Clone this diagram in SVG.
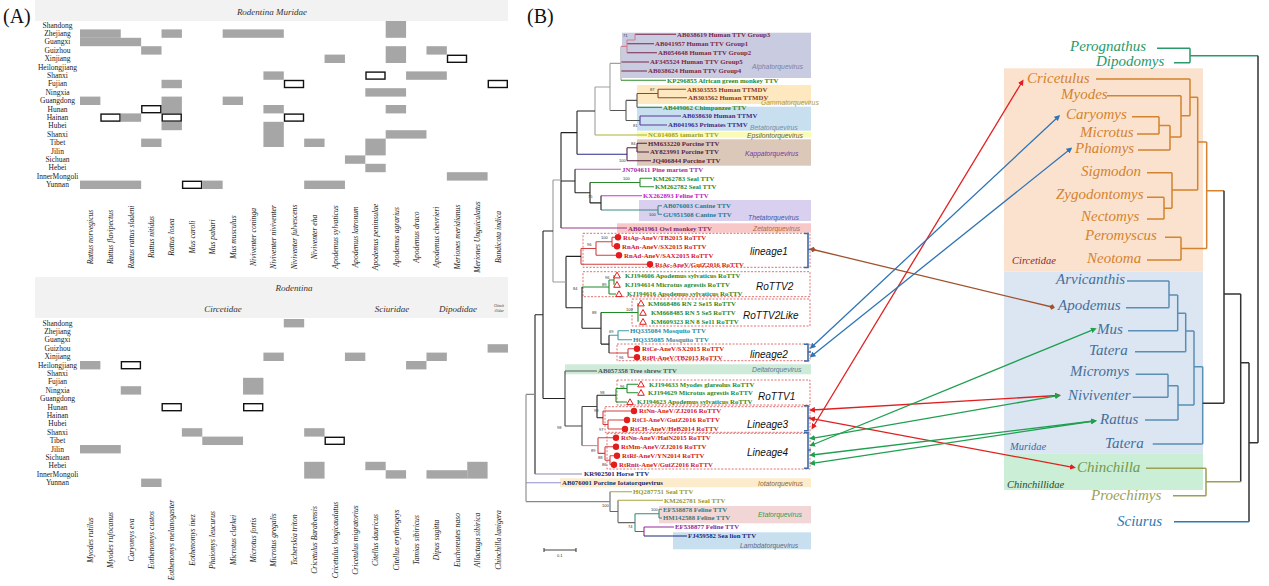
<svg xmlns="http://www.w3.org/2000/svg" width="1269" height="586" viewBox="0 0 1269 586">
<defs>
<style>
.pl{font-family:"Liberation Serif",serif;font-size:20px;fill:#111}
.hd{font-family:"Liberation Serif",serif;font-style:italic;font-size:9px;fill:#333}
.rl{font-family:"Liberation Serif",serif;font-size:7.5px;fill:#222;text-anchor:middle}
.cl{font-family:"Liberation Serif",serif;font-style:italic;font-size:7.6px;fill:#222;text-anchor:middle}
.g{fill:#a6a6a6}
.o{fill:#fff;stroke:#111;stroke-width:1.4}
.lf{font-family:"Liberation Serif",serif;font-weight:bold;font-size:6.8px}
.gn{font-family:"Liberation Sans",sans-serif;font-style:italic;font-size:6.8px}
.ln{font-family:"Liberation Sans",sans-serif;font-style:italic;font-size:10px;fill:#111}
.bs{font-family:"Liberation Sans",sans-serif;font-size:4px;fill:#333}
.br{fill:none;stroke-width:1.1}
.dbox{fill:none;stroke:#e06060;stroke-width:0.9;stroke-dasharray:2 1.5}
.bk{fill:none;stroke:#3f6ba8;stroke-width:1.6}
.tx{font-family:"Liberation Serif",serif;font-style:italic;font-size:15px}
.sm{font-family:"Liberation Serif",serif;font-style:italic;font-size:10.5px}
.rt{fill:none;stroke-width:1.5}
.dot{fill:#e51c1c}
.tri{fill:#fff;stroke:#e51c1c;stroke-width:1}
.red{fill:#d42020}
.grn{fill:#1f8a2a}
</style>
<marker id="mR" viewBox="0 0 6 6" refX="3" refY="3" markerWidth="4.5" markerHeight="4.5" orient="auto-start-reverse"><path d="M0,0 L6,3 L0,6 z" fill="#e02020"/></marker>
<marker id="mB" viewBox="0 0 6 6" refX="3" refY="3" markerWidth="4.5" markerHeight="4.5" orient="auto-start-reverse"><path d="M0,0 L6,3 L0,6 z" fill="#2f74b5"/></marker>
<marker id="mG" viewBox="0 0 6 6" refX="3" refY="3" markerWidth="4.5" markerHeight="4.5" orient="auto-start-reverse"><path d="M0,0 L6,3 L0,6 z" fill="#1fa050"/></marker>
<marker id="mN" viewBox="0 0 6 6" refX="3" refY="3" markerWidth="4.5" markerHeight="4.5" orient="auto-start-reverse"><path d="M0,3 L3,0 L6,3 L3,6 z" fill="#a0522d"/></marker>
</defs>
<rect width="1269" height="586" fill="#fff"/>

<!-- PANEL A -->
<g id="panelA">
<text class="pl" x="3" y="23">(A)</text>
<rect x="35" y="0" width="473" height="21" fill="#f2f2f2"/>
<text class="hd" x="272" y="15" text-anchor="middle">Rodentina Muridae</text>
<g id="rowsTop">
<text class="rl" x="57.5" y="27.6">Shandong</text>
<text class="rl" x="57.5" y="36">Zhejiang</text>
<text class="rl" x="57.5" y="44.4">Guangxi</text>
<text class="rl" x="57.5" y="52.8">Guizhou</text>
<text class="rl" x="57.5" y="61.2">Xinjiang</text>
<text class="rl" x="57.5" y="69.6">Heilongjiang</text>
<text class="rl" x="57.5" y="78">Shanxi</text>
<text class="rl" x="57.5" y="86.4">Fujian</text>
<text class="rl" x="57.5" y="94.8">Ningxia</text>
<text class="rl" x="57.5" y="103.2">Guangdong</text>
<text class="rl" x="57.5" y="111.6">Hunan</text>
<text class="rl" x="57.5" y="120">Hainan</text>
<text class="rl" x="57.5" y="128.4">Hubei</text>
<text class="rl" x="57.5" y="136.8">Shanxi</text>
<text class="rl" x="57.5" y="145.2">Tibet</text>
<text class="rl" x="57.5" y="153.6">Jilin</text>
<text class="rl" x="57.5" y="162">Sichuan</text>
<text class="rl" x="57.5" y="170.4">Hebei</text>
<text class="rl" x="57.5" y="178.8">InnerMongoli</text>
<text class="rl" x="57.5" y="187.2">Yunnan</text>
</g>
<g id="cellsTop">
<rect class="g" x="385.7" y="21" width="20.38" height="16.8"/>
<rect class="g" x="80" y="29.4" width="40.76" height="8.4"/>
<rect class="g" x="161.52" y="29.4" width="20.38" height="8.4"/>
<rect class="g" x="222.66" y="29.4" width="61.14" height="8.4"/>
<rect class="g" x="80" y="37.8" width="61.14" height="8.4"/>
<rect class="g" x="141.14" y="46.2" width="20.38" height="8.4"/>
<rect class="g" x="385.7" y="46.2" width="20.38" height="16.8"/>
<rect class="g" x="426.46" y="46.2" width="20.38" height="8.4"/>
<rect class="g" x="324.56" y="54.6" width="20.38" height="8.4"/>
<rect class="o" x="447.5" y="55.3" width="19" height="7"/>
<rect class="g" x="263.42" y="71.4" width="20.38" height="8.4"/>
<rect class="o" x="366" y="72.1" width="19" height="7"/>
<rect class="g" x="406.08" y="71.4" width="40.76" height="8.4"/>
<rect class="g" x="161.52" y="79.8" width="20.38" height="8.4"/>
<rect class="o" x="284.5" y="80.5" width="19" height="7"/>
<rect class="o" x="488.3" y="80.5" width="19" height="7"/>
<rect class="g" x="365.32" y="88.2" width="40.76" height="8.4"/>
<rect class="g" x="80" y="96.6" width="20.38" height="8.4"/>
<rect class="g" x="161.52" y="96.6" width="20.38" height="16.8"/>
<rect class="g" x="222.66" y="96.6" width="20.38" height="8.4"/>
<rect class="o" x="141.8" y="105.7" width="19" height="7"/>
<rect class="g" x="263.42" y="105" width="20.38" height="8.4"/>
<rect class="g" x="385.7" y="105" width="20.38" height="8.4"/>
<rect class="o" x="101" y="114.1" width="19" height="7"/>
<rect class="g" x="120.76" y="113.4" width="20.38" height="8.4"/>
<rect class="o" x="162.2" y="114.1" width="19" height="7"/>
<rect class="o" x="284.5" y="114.1" width="19" height="7"/>
<rect class="g" x="161.52" y="121.8" width="20.38" height="8.4"/>
<rect class="g" x="263.42" y="121.8" width="20.38" height="25.2"/>
<rect class="g" x="385.7" y="130.2" width="40.76" height="8.4"/>
<rect class="g" x="141.14" y="138.6" width="20.38" height="8.4"/>
<rect class="g" x="304.18" y="138.6" width="20.38" height="8.4"/>
<rect class="g" x="365.32" y="138.6" width="20.38" height="16.8"/>
<rect class="g" x="344.94" y="155.4" width="20.38" height="8.4"/>
<rect class="g" x="365.32" y="163.8" width="20.38" height="8.4"/>
<rect class="g" x="446.84" y="172.2" width="40.76" height="8.4"/>
<rect class="g" x="80" y="180.6" width="61.14" height="8.4"/>
<rect class="o" x="182.6" y="181.3" width="19" height="7"/>
<rect class="g" x="202.28" y="180.6" width="20.38" height="8.4"/>
<rect class="g" x="304.18" y="180.6" width="40.76" height="8.4"/>
</g>
<g id="colsTop">
<text class="cl" transform="translate(92.9,237) rotate(-90)">Rattus norvegicus</text>
<text class="cl" transform="translate(113.3,237) rotate(-90)">Rattus flavipectus</text>
<text class="cl" transform="translate(133.7,237) rotate(-90)">Rattus rattus sladeni</text>
<text class="cl" transform="translate(154,237) rotate(-90)">Rattus nitidus</text>
<text class="cl" transform="translate(174.4,237) rotate(-90)">Rattus losea</text>
<text class="cl" transform="translate(194.8,237) rotate(-90)">Mus caroli</text>
<text class="cl" transform="translate(215.2,237) rotate(-90)">Mus pahari</text>
<text class="cl" transform="translate(235.6,237) rotate(-90)">Mus musculus</text>
<text class="cl" transform="translate(255.9,237) rotate(-90)">Niviventer coninga</text>
<text class="cl" transform="translate(276.3,237) rotate(-90)">Niviventer niviventer</text>
<text class="cl" transform="translate(296.7,237) rotate(-90)">Niviventer fulvescens</text>
<text class="cl" transform="translate(317.1,237) rotate(-90)">Niviventer eha</text>
<text class="cl" transform="translate(337.5,237) rotate(-90)">Apodemus sylvaticus</text>
<text class="cl" transform="translate(357.8,237) rotate(-90)">Apodemus latronum</text>
<text class="cl" transform="translate(378.2,237) rotate(-90)">Apodemus peninsulae</text>
<text class="cl" transform="translate(398.6,237) rotate(-90)">Apodemus agrarius</text>
<text class="cl" transform="translate(419,237) rotate(-90)">Apodemus draco</text>
<text class="cl" transform="translate(439.4,237) rotate(-90)">Apodemus chevrieri</text>
<text class="cl" transform="translate(459.7,237) rotate(-90)">Meriones meridianus</text>
<text class="cl" transform="translate(480.1,237) rotate(-90)">Meriones Unguiculatus</text>
<text class="cl" transform="translate(500.5,237) rotate(-90)">Bandicota indica</text>
</g>

<rect x="35" y="277" width="473" height="41" fill="#f2f2f2"/>
<text class="hd" x="294" y="291" text-anchor="middle">Rodentina</text>
<text class="hd" x="223" y="312" text-anchor="middle">Circetidae</text>
<text class="hd" x="392" y="312" text-anchor="middle">Sciuridae</text>
<text class="hd" x="458" y="312" text-anchor="middle">Dipodidae</text>
<text class="hd" x="499" y="307" text-anchor="middle" style="font-size:3.5px">Chinch</text>
<text class="hd" x="499" y="311.5" text-anchor="middle" style="font-size:3.5px">illidae</text>
<g id="rowsBottom">
<text class="rl" x="57.5" y="325.6">Shandong</text>
<text class="rl" x="57.5" y="334">Zhejiang</text>
<text class="rl" x="57.5" y="342.4">Guangxi</text>
<text class="rl" x="57.5" y="350.8">Guizhou</text>
<text class="rl" x="57.5" y="359.2">Xinjiang</text>
<text class="rl" x="57.5" y="367.6">Heilongjiang</text>
<text class="rl" x="57.5" y="376">Shanxi</text>
<text class="rl" x="57.5" y="384.4">Fujian</text>
<text class="rl" x="57.5" y="392.8">Ningxia</text>
<text class="rl" x="57.5" y="401.2">Guangdong</text>
<text class="rl" x="57.5" y="409.6">Hunan</text>
<text class="rl" x="57.5" y="418">Hainan</text>
<text class="rl" x="57.5" y="426.4">Hubei</text>
<text class="rl" x="57.5" y="434.8">Shanxi</text>
<text class="rl" x="57.5" y="443.2">Tibet</text>
<text class="rl" x="57.5" y="451.6">Jilin</text>
<text class="rl" x="57.5" y="460">Sichuan</text>
<text class="rl" x="57.5" y="468.4">Hebei</text>
<text class="rl" x="57.5" y="476.8">InnerMongoli</text>
<text class="rl" x="57.5" y="485.2">Yunnan</text>
</g>
<g id="cellsBottom">
<rect class="g" x="283.8" y="319" width="20.38" height="8.4"/>
<rect class="g" x="487.6" y="344.2" width="20.38" height="8.4"/>
<rect class="g" x="263.42" y="352.6" width="20.38" height="8.4"/>
<rect class="g" x="344.94" y="352.6" width="20.38" height="8.4"/>
<rect class="g" x="426.46" y="352.6" width="20.38" height="8.4"/>
<rect class="g" x="80" y="361" width="20.38" height="8.4"/>
<rect class="o" x="121.4" y="361.7" width="19" height="7"/>
<rect class="g" x="406.08" y="361" width="20.38" height="8.4"/>
<rect class="g" x="243.04" y="377.8" width="20.38" height="16.8"/>
<rect class="g" x="120.76" y="386.2" width="20.38" height="8.4"/>
<rect class="o" x="162.2" y="403.7" width="19" height="7"/>
<rect class="o" x="243.7" y="403.7" width="19" height="7"/>
<rect class="g" x="181.9" y="428.2" width="20.38" height="8.4"/>
<rect class="g" x="304.18" y="428.2" width="20.38" height="8.4"/>
<rect class="g" x="202.28" y="436.6" width="40.76" height="8.4"/>
<rect class="o" x="325.2" y="437.3" width="19" height="7"/>
<rect class="g" x="80" y="445" width="40.76" height="8.4"/>
<rect class="g" x="304.18" y="461.8" width="20.38" height="16.8"/>
<rect class="g" x="365.32" y="461.8" width="20.38" height="8.4"/>
<rect class="g" x="467.22" y="461.8" width="20.38" height="16.8"/>
<rect class="g" x="385.7" y="470.2" width="20.38" height="8.4"/>
<rect class="g" x="426.46" y="470.2" width="40.76" height="8.4"/>
<rect class="g" x="141.14" y="478.6" width="20.38" height="8.4"/>
</g>
<g id="colsBottom">
<text class="cl" transform="translate(92.9,540) rotate(-90)">Myodes rutilus</text>
<text class="cl" transform="translate(113.3,540) rotate(-90)">Myodes rufocanus</text>
<text class="cl" transform="translate(133.7,540) rotate(-90)">Caryomys eva</text>
<text class="cl" transform="translate(154,540) rotate(-90)">Eothenomys custos</text>
<text class="cl" transform="translate(174.4,540) rotate(-90)">Eothenomys melanogaster</text>
<text class="cl" transform="translate(194.8,540) rotate(-90)">Eothenomys inez</text>
<text class="cl" transform="translate(215.2,540) rotate(-90)">Phaiomys leucurus</text>
<text class="cl" transform="translate(235.6,540) rotate(-90)">Microtus clarkei</text>
<text class="cl" transform="translate(255.9,540) rotate(-90)">Microtus fortis</text>
<text class="cl" transform="translate(276.3,540) rotate(-90)">Microtus gregalis</text>
<text class="cl" transform="translate(296.7,540) rotate(-90)">Tscherskia triton</text>
<text class="cl" transform="translate(317.1,540) rotate(-90)">Cricetulus Barabensis</text>
<text class="cl" transform="translate(337.5,540) rotate(-90)">Cricetulus longicaudatus</text>
<text class="cl" transform="translate(357.8,540) rotate(-90)">Cricetulus migratorius</text>
<text class="cl" transform="translate(378.2,540) rotate(-90)">Citellus dauricus</text>
<text class="cl" transform="translate(398.6,540) rotate(-90)">Citellus erythrogeys</text>
<text class="cl" transform="translate(419,540) rotate(-90)">Tamias sibiricus</text>
<text class="cl" transform="translate(439.4,540) rotate(-90)">Dipus sagitta</text>
<text class="cl" transform="translate(459.7,540) rotate(-90)">Euchoreutes naso</text>
<text class="cl" transform="translate(480.1,540) rotate(-90)">Allactaga sibirica</text>
<text class="cl" transform="translate(500.5,540) rotate(-90)">Chinchilla lanigera</text>
</g>
</g>

<!-- PANEL B -->
<g id="panelB">
<text class="pl" x="527" y="23">(B)</text>
<g id="genusBoxes">
<rect x="622" y="32.7" width="189" height="45.3" fill="#c9cbe0"/>
<rect x="637" y="85" width="174" height="19" fill="#fde8c0"/>
<rect x="637" y="106.7" width="174" height="24" fill="#c8dff0"/>
<rect x="637" y="131.7" width="174" height="6" fill="#fbfbb8"/>
<rect x="637" y="139.3" width="174" height="26.4" fill="#dcc8b8"/>
<rect x="639" y="200" width="172" height="21" fill="#d8d0ee"/>
<rect x="617" y="223.3" width="194" height="9.4" fill="#f8c8c8"/>
<rect x="565" y="364.3" width="246" height="10" fill="#cdebd8"/>
<rect x="560" y="478.3" width="251" height="9" fill="#fdeccb"/>
<rect x="659" y="506" width="152" height="17.3" fill="#f2d6d6"/>
<rect x="673" y="532.3" width="138" height="17" fill="#c8dff0"/>
<text class="gn" x="752" y="68.5" fill="#7a7fa8">Alphatorquevirus</text>
<text class="gn" x="761" y="105.3" fill="#b09a38">Gammatorquevirus</text>
<text class="gn" x="750" y="130" fill="#7090a8">Betatorquevirus</text>
<text class="gn" x="747" y="138.3" fill="#6a6040">Epsilontorquevirus</text>
<text class="gn" x="745" y="155.5" fill="#8030a0">Kappatorquevirus</text>
<text class="gn" x="748" y="219.5" fill="#3a5aa8">Thetatorquevirus</text>
<text class="gn" x="753" y="230.6" fill="#b06a3a">Zetatorquevirus</text>
<text class="gn" x="752" y="371.8" fill="#5a7a9a">Deltatorquevirus</text>
<text class="gn" x="758" y="486.3" fill="#8a6a3a">Iotatorquevirus</text>
<text class="gn" x="758" y="516.5" fill="#2a9a5a">Etatorquevirus</text>
<text class="gn" x="740" y="548" fill="#6a6a7a">Lambdatorquevirus</text>
</g>
<g id="lineageBoxes">
<rect class="dbox" x="583" y="233.3" width="227" height="34"/>
<rect class="dbox" x="583" y="271.7" width="227" height="25"/>
<rect class="dbox" x="632" y="299" width="178" height="27"/>
<rect class="dbox" x="617" y="344" width="193" height="16.7"/>
<rect class="dbox" x="617" y="380" width="193" height="25"/>
<rect class="dbox" x="605" y="406.7" width="205" height="25.6"/>
<rect class="dbox" x="607" y="433.3" width="203" height="35.7"/>
<text class="ln" x="750" y="255">lineage1</text>
<text class="ln" x="756" y="290">RoTTV2</text>
<text class="ln" x="743" y="318.5">RoTTV2Like</text>
<text class="ln" x="750" y="357.5">lineage2</text>
<text class="ln" x="758" y="399.5">RoTTV1</text>
<text class="ln" x="747" y="428">Lineage3</text>
<text class="ln" x="747" y="456">Lineage4</text>
</g>
<g id="tree">
<path class="br" stroke="#7a2848" d="M635,34.3H676M627,43.7H654M627,52.7H657M621,62H649M621,71H647"/>
<path class="br" stroke="#d08090" d="M635,34.3V40M627,40H635M627,40V52.7M621,46.4H627"/>
<path class="br" stroke="#a0a0a0" d="M621,46.4V80.3M610,63.4H621"/>
<path class="br" stroke="#2a8a2a" d="M621,80.3H666"/>
<path class="br" stroke="#8b4a2a" d="M658,89.3V97.7M658,89.3H686M658,97.7H687M637,93.5H658"/>
<path class="br" stroke="#555" d="M637,93.5V107.3M626,100.4V120.5M626,100.4H637M626,120.5H640M610,110.5H626"/>
<path class="br" stroke="#2a8a2a" d="M637,107.3H662"/>
<path class="br" stroke="#5a3a9a" d="M640,116V125M640,116H681M640,125H667"/>
<path class="br" stroke="#a0a0a0" d="M610,63.4V110.5M595,87V135M595,87H610"/>
<path class="br" stroke="#b0b030" d="M595,135H647"/>
<path class="br" stroke="#5a1f3f" d="M637,143.3V152M637,143.3H647M637,152H649M627,147.7V160.7M627,147.7H637M627,160.7H651"/>
<path class="br" stroke="#2a2a8a" d="M577,154.2H627"/>
<path class="br" stroke="#222" d="M577,111V154.2M577,111H595"/>
<path class="br" stroke="#b060b0" d="M575,169.3H621"/>
<path class="br" stroke="#2a8a2a" d="M640,178.3V186.7M640,178.3H652M640,186.7H654M590,182.5H640"/>
<path class="br" stroke="#3a8a8a" d="M658,205.7V214.3M658,205.7H662M658,214.3H662M601,210H658"/>
<path class="br" stroke="#d030d0" d="M601,195.7H642"/>
<path class="br" stroke="#222" d="M601,195.7V210M590,182.5V202.9M590,202.9H601M575,169.3V192.7M575,192.7H590M561,132.6V228M561,132.6H577M561,181H575"/>
<path class="br" stroke="#9a3a8a" d="M561,228H627"/>
<path class="br" stroke="#d04040" d="M612,237.3V246.3M612,237.3H615M612,246.3H614M596,241.8V255.3M596,241.8H612M596,255.3H616M581,248.5V264.3M581,248.5H596M581,264.3H647"/>
<path class="br" stroke="#1f8a2a" d="M614,275.3V284.7M609,280V294M609,280H614M609,294H616M609,287H582M638,303.3V321.7M601,312.5H638"/>
<path class="br" stroke="#3a9aaa" d="M618,330.7V339.7M618,330.7H629M618,339.7H632M609,335.2H618"/>
<path class="br" stroke="#d04040" d="M628,348.7V357.3M628,348.7H634M628,357.3H634M609,353H628"/>
<path class="br" stroke="#222" d="M609,335.2V353M601,312.5V344.1M601,344.1H609M582,287V328.3M582,328.3H601M566,256.4V307.7M566,256.4H581M566,307.7H582"/>
<path class="br" stroke="#999" d="M553,180V282M553,180H561M553,282H566"/>
<path class="br" stroke="#1f8a2a" d="M627,384.3V392.7M627,384.3H638M627,392.7H638M616,388.5V402M616,388.5H627M616,402H627"/>
<path class="br" stroke="#d04040" d="M608,420V429M608,420H624M608,429H622M603,411V424.5M603,411H631M603,424.5H608"/>
<path class="br" stroke="#222" d="M597,395.2V417.7M597,395.2H616M597,417.7H603"/>
<path class="br" stroke="#d04040" d="M610,455.7V464.7M610,455.7H614M610,464.7H611M605,446.7V460.2M605,446.7H613M605,460.2H610M598,437.7V453.4M598,437.7H613M598,453.4H605"/>
<path class="br" stroke="#d88a8a" d="M582,445.6H598"/>
<path class="br" stroke="#444" d="M582,406.5V445.6M582,406.5H597M565,371V426M565,426H582"/>
<path class="br" stroke="#666" d="M565,371H597"/>
<path class="br" stroke="#222" d="M543,231V398.5M543,231H553M543,398.5H565M535,314.8V474M535,314.8H543"/>
<path class="br" stroke="#8a8ab0" d="M535,474H582"/>
<path class="br" stroke="#3a8a7a" d="M659,509.3V518M659,509.3H662M659,518H662M635,513.7H659M635,513.7V531.5"/>
<path class="br" stroke="#9a2a9a" d="M644,527V536M644,527H674"/>
<path class="br" stroke="#1a2a7a" d="M644,536H687"/>
<path class="br" stroke="#666" d="M635,531.5H644M618,500.3V522.6M618,522.6H635M610,491.7V511.5M610,511.5H618"/>
<path class="br" stroke="#a8a840" d="M610,491.7H632M618,500.3H663"/>
<path class="br" stroke="#9090d0" d="M526,482.7H561"/>
<path class="br" stroke="#888" stroke-width="1.6" d="M526,394.4V501.6M526,394.4H535M526,501.6H610"/>
<path class="br" stroke="#444" d="M544,550H576M544,548V552M576,548V552"/>
<text class="bs" x="557" y="557">0.1</text>
</g>
<g id="bootstrap">
<text class="bs" x="623" y="37">71</text>
<text class="bs" x="650" y="91">87</text>
<text class="bs" x="633" y="127">81</text>
<text class="bs" x="631" y="145">84</text>
<text class="bs" x="619" y="162">100</text>
<text class="bs" x="623" y="180">100</text>
<text class="bs" x="588" y="198">75</text>
<text class="bs" x="649" y="216">100</text>
<text class="bs" x="601" y="239">100</text>
<text class="bs" x="587" y="246">96</text>
<text class="bs" x="605" y="279">96</text>
<text class="bs" x="602" y="286">89</text>
<text class="bs" x="626" y="311">100</text>
<text class="bs" x="573" y="290">84</text>
<text class="bs" x="592" y="314">88</text>
<text class="bs" x="609" y="333">69</text>
<text class="bs" x="619" y="359">96</text>
<text class="bs" x="620" y="388">96</text>
<text class="bs" x="600" y="394">98</text>
<text class="bs" x="594" y="412">99</text>
<text class="bs" x="599" y="431">97</text>
<text class="bs" x="591" y="452">89</text>
<text class="bs" x="598" y="459">88</text>
<text class="bs" x="602" y="466">86</text>
<text class="bs" x="557" y="429">98</text>
<text class="bs" x="602" y="507">100</text>
<text class="bs" x="651" y="511">100</text>
<text class="bs" x="628" y="528">74</text>
</g>
<g id="leaves">
<text class="lf" x="677" y="36.6" fill="#7a2848">AB038619 Human TTV Group3</text>
<text class="lf" x="655" y="46" fill="#7a2848">AB041957 Human TTV Group1</text>
<text class="lf" x="658" y="55" fill="#7a2848">AB054648 Human TTV Group2</text>
<text class="lf" x="650" y="64.3" fill="#7a2848">AF345524 Human TTV Group5</text>
<text class="lf" x="648" y="73.3" fill="#7a2848">AB038624 Human TTV Group4</text>
<text class="lf" x="667" y="82.6" fill="#1f8a2a">KP296855 African green monkey TTV</text>
<text class="lf" x="687" y="91.6" fill="#8b3a1a">AB303555 Human TTMDV</text>
<text class="lf" x="688" y="100" fill="#8b3a1a">AB303562 Human TTMDV</text>
<text class="lf" x="663" y="109.6" fill="#1f8a2a">AB449062 Chimpanzee TTV</text>
<text class="lf" x="682" y="118.3" fill="#3d2c8d">AB038630 Human TTMV</text>
<text class="lf" x="668" y="127.3" fill="#3d2c8d">AB041963 Primates TTMV</text>
<text class="lf" x="648" y="137.3" fill="#a0a020">NC014085 tamarin TTV</text>
<text class="lf" x="648" y="145.6" fill="#5a1f3f">HM633220 Porcine TTV</text>
<text class="lf" x="650" y="154.3" fill="#5a1f3f">AY823991 Porcine TTV</text>
<text class="lf" x="652" y="163" fill="#5a1f3f">JQ406844 Porcine TTV</text>
<text class="lf" x="622" y="171.6" fill="#a030a0">JN704611 Pine marten TTV</text>
<text class="lf" x="653" y="180.6" fill="#1f8a2a">KM262783 Seal TTV</text>
<text class="lf" x="655" y="189" fill="#1f8a2a">KM262782 Seal TTV</text>
<text class="lf" x="643" y="198" fill="#c020c0">KX262893 Feline TTV</text>
<text class="lf" x="663" y="208" fill="#2a7a8a">AB076003 Canine TTV</text>
<text class="lf" x="663" y="216.6" fill="#2a7a8a">GU951508 Canine TTV</text>
<text class="lf" x="628" y="230.6" fill="#8a2a6a">AB041961 Owl monkey TTV</text>
<text class="lf red" x="623" y="239.6">RtAp-AneV/TB2015 RoTTV</text>
<text class="lf red" x="622" y="248.6">RnAn-AneV/SX2015 RoTTV</text>
<text class="lf red" x="624" y="257.6">RnAd-AneV/SAX2015 RoTTV</text>
<text class="lf red" x="655" y="266.6">RtAc-AneV/GuiZ2016 RoTTV</text>
<text class="lf grn" x="625" y="277.6">KJ194606 Apodemus sylvaticus RoTTV</text>
<text class="lf grn" x="625" y="287">KJ194614 Microtus agrestis RoTTV</text>
<text class="lf grn" x="627" y="296.3">KJ194616 Apodemus sylvaticus RoTTV</text>
<text class="lf grn" x="648" y="305.6">KM668486 RN 2 Se15 RoTTV</text>
<text class="lf grn" x="651" y="315">KM668485 RN 5 Se5 RoTTV</text>
<text class="lf grn" x="651" y="324">KM609323 RN 8 Se11 RoTTV</text>
<text class="lf" x="630" y="333" fill="#2a8aa0">HQ335084 Mosquito TTV</text>
<text class="lf" x="633" y="342" fill="#2a8aa0">HQ335085 Mosquito TTV</text>
<text class="lf red" x="642" y="351">RtCe-AneV/SX2015 RoTTV</text>
<text class="lf red" x="642" y="359.6">RtPl-AneV/TB2015 RoTTV</text>
<text class="lf" x="598" y="373.3" fill="#555">AB057358 Tree shrew TTV</text>
<text class="lf grn" x="649" y="386.6">KJ194633 Myodes glareolus RoTTV</text>
<text class="lf grn" x="648" y="395">KJ194629 Microtus agrestis RoTTV</text>
<text class="lf grn" x="637" y="404.3">KJ194623 Apodemus sylvaticus RoTTV</text>
<text class="lf red" x="639" y="413.3">RtNn-AneV/ZJ2016 RoTTV</text>
<text class="lf red" x="632" y="422.3">RtCl-AneV/GuiZ2016 RoTTV</text>
<text class="lf red" x="630" y="431.3">RtCH-AneV/HeB2014 RoTTV</text>
<text class="lf red" x="621" y="440">RtNn-AneV/HaiN2015 RoTTV</text>
<text class="lf red" x="621" y="449">RtMm-AneV/ZJ2016 RoTTV</text>
<text class="lf red" x="622" y="458">RtRf-AneV/YN2014 RoTTV</text>
<text class="lf red" x="619" y="467">RtRnit-AneV/GuiZ2016 RoTTV</text>
<text class="lf" x="584" y="476.3" fill="#1a1a6a">KR902501 Horse TTV</text>
<text class="lf" x="562" y="485" fill="#1a2a6a">AB076001 Porcine Iotatorquevirus</text>
<text class="lf" x="633" y="494" fill="#9a9a2a">HQ287751 Seal TTV</text>
<text class="lf" x="664" y="502.6" fill="#9a9a2a">KM262781 Seal TTV</text>
<text class="lf" x="663" y="511.6" fill="#3a7a7a">EF538878 Feline TTV</text>
<text class="lf" x="663" y="520.3" fill="#3a7a7a">HM142588 Feline TTV</text>
<text class="lf" x="675" y="529.3" fill="#8a2a9a">EF538877 Feline TTV</text>
<text class="lf" x="688" y="538.3" fill="#1a2a7a">FJ459582 Sea lion TTV</text>
</g>
<g id="symbols">
<circle class="dot" cx="618" cy="237.3" r="3.2"/>
<circle class="dot" cx="617" cy="246.3" r="3.2"/>
<circle class="dot" cx="619" cy="255.3" r="3.2"/>
<circle class="dot" cx="650" cy="264.3" r="3.2"/>
<circle class="dot" cx="637" cy="348.7" r="3.2"/>
<circle class="dot" cx="637" cy="357.3" r="3.2"/>
<circle class="dot" cx="634" cy="411" r="3.2"/>
<circle class="dot" cx="627" cy="420" r="3.2"/>
<circle class="dot" cx="625" cy="429" r="3.2"/>
<circle class="dot" cx="616" cy="437.7" r="3.2"/>
<circle class="dot" cx="616" cy="446.7" r="3.2"/>
<circle class="dot" cx="617" cy="455.7" r="3.2"/>
<circle class="dot" cx="614" cy="464.7" r="3.2"/>
<polygon class="tri" points="617,272.1 613.7,277.9 620.3,277.9"/>
<polygon class="tri" points="617,281.5 613.7,287.3 620.3,287.3"/>
<polygon class="tri" points="619,290.8 615.7,296.6 622.3,296.6"/>
<polygon class="tri" points="641,300.1 637.7,305.9 644.3,305.9"/>
<polygon class="tri" points="643,309.5 639.7,315.3 646.3,315.3"/>
<polygon class="tri" points="643,318.5 639.7,324.3 646.3,324.3"/>
<polygon class="tri" points="641,381.1 637.7,386.9 644.3,386.9"/>
<polygon class="tri" points="641,389.5 637.7,395.3 644.3,395.3"/>
<polygon class="tri" points="630,398.8 626.7,404.6 633.3,404.6"/>
</g>
<g id="brackets">
<path class="bk" d="M804,233.5H808V267.5H804M808,249.5H811"/>
<path class="bk" d="M804,344.3H808V361H804M808,352H811"/>
<path class="bk" d="M804,405.7H808V430.7H804M808,418H811"/>
<path class="bk" d="M804,432.8H808V468.3H804M808,450H811"/>
</g>
</g>

<!-- host cladogram -->
<g id="hostTree">
<rect x="1004" y="68.3" width="199" height="203.4" fill="#fbe2cf"/>
<rect x="1004" y="271.7" width="199" height="181.6" fill="#dce6f3"/>
<rect x="1004" y="453.3" width="199" height="36.7" fill="#cbeed6"/>
<text class="sm" x="1012" y="264" fill="#8b2a2a">Circetidae</text>
<text class="sm" x="1010" y="450" fill="#3a6aa0">Muridae</text>
<text class="sm" x="1007" y="488" fill="#2a4a2a">Chinchillidae</text>
<g id="hostLabels">
<text class="tx" x="1070" y="51" fill="#2a9a6a">Perognathus</text>
<text class="tx" x="1096" y="66" fill="#2a9a6a">Dipodomys</text>
<text class="tx" x="1027" y="82.5" fill="#d4832e">Cricetulus</text>
<text class="tx" x="1061" y="99" fill="#d4832e">Myodes</text>
<text class="tx" x="1066" y="119" fill="#d4832e">Caryomys</text>
<text class="tx" x="1080" y="136.5" fill="#d4832e">Microtus</text>
<text class="tx" x="1075" y="153" fill="#d4832e">Phaiomys</text>
<text class="tx" x="1081" y="176" fill="#d4832e">Sigmodon</text>
<text class="tx" x="1056" y="199" fill="#d4832e">Zygodontomys</text>
<text class="tx" x="1081" y="220.5" fill="#d4832e">Nectomys</text>
<text class="tx" x="1085" y="239.5" fill="#d4832e">Peromyscus</text>
<text class="tx" x="1087" y="262.5" fill="#d4832e">Neotoma</text>
<text class="tx" x="1056" y="283.5" fill="#456f9a">Arvicanthis</text>
<text class="tx" x="1058" y="309.5" fill="#456f9a">Apodemus</text>
<text class="tx" x="1097" y="333.5" fill="#456f9a">Mus</text>
<text class="tx" x="1089" y="354.5" fill="#456f9a">Tatera</text>
<text class="tx" x="1070" y="375.5" fill="#456f9a">Micromys</text>
<text class="tx" x="1068" y="399.5" fill="#456f9a">Niviventer</text>
<text class="tx" x="1100" y="423.5" fill="#456f9a">Rattus</text>
<text class="tx" x="1105" y="447.5" fill="#456f9a">Tatera</text>
<text class="tx" x="1077" y="471.5" fill="#6f9a4a">Chinchilla</text>
<text class="tx" x="1091" y="499.5" fill="#9aa055">Proechimys</text>
<text class="tx" x="1117" y="525.5" fill="#2b7bb0">Sciurus</text>
</g>
<path class="rt" stroke="#2a9a6a" d="M1157,48.3H1190M1174,62.7H1190M1190,48.3V62.7M1190,55.7H1258"/>
<path class="rt" stroke="#d4832e" d="M1096,79H1190M1107,95.7H1181M1132,116.7H1159M1137,134H1159M1159,116.7V134M1159,125.5H1170M1138,150H1170M1170,125.5V150M1170,137H1181M1181,95.7V137M1181,115.7H1190M1190,79V115.7M1190,97.3H1197.7M1147,172.7H1172M1147,197.3H1164M1147,219H1164M1164,197.3V219M1164,208.3H1172M1172,172.7V208.3M1172,190H1197.7M1197.7,97.3V190M1197.7,142H1206.7M1165,237.3H1181M1147,260H1181M1181,237.3V260M1181,248.5H1206.7M1206.7,142V248.5M1206.7,190.7H1224"/>
<path class="rt" stroke="#5a8fb5" d="M1127,281H1169M1126,307.7H1169M1169,281V307.7M1169,295H1177.7M1128,330.7H1177.7M1177.7,295V330.7M1177.7,313.3H1185.7M1135,351.7H1185.7M1185.7,313.3V351.7M1185.7,331H1194M1135.7,374.3H1168M1132.7,397.3H1168M1168,374.3V397.3M1168,385.7H1178M1145,420H1178M1178,385.7V420M1178,405H1194M1194,331V405M1194,366.7H1202.7M1152.7,444H1202.7M1202.7,366.7V444"/>
<path class="rt" stroke="#333" d="M1202.7,403.3H1224M1224,190.7V403.3M1224,294H1240.7M1240.7,294V481.7M1240.7,362.7H1249M1249,362.7V521.7M1249,442.7H1258M1258,55.7V442.7"/>
<path class="rt" stroke="#9aa055" d="M1146,468.3H1206M1173,495.7H1206M1206,468.3V495.7M1206,481.7H1240.7"/>
<path class="rt" stroke="#2b7bb0" d="M1174,521.7H1249"/>
</g>

<g id="connectors" fill="none" stroke-width="1.3">
<path d="M813,249.5L1052,307" stroke="#a0522d" marker-start="url(#mN)" marker-end="url(#mN)"/>
<path d="M813,427L1022,82" stroke="#e02020" marker-start="url(#mR)" marker-end="url(#mR)"/>
<path d="M812,346.7L1058,117" stroke="#2f74b5" marker-start="url(#mB)" marker-end="url(#mB)"/>
<path d="M812,355.7L1070,149.3" stroke="#2f74b5" marker-start="url(#mB)" marker-end="url(#mB)"/>
<path d="M812,410L1058,395.5" stroke="#e02020" marker-start="url(#mR)" marker-end="url(#mR)"/>
<path d="M812,418.7L1073,467.3" stroke="#e02020" marker-start="url(#mR)" marker-end="url(#mR)"/>
<path d="M812,438.3L1058,395.7" stroke="#1fa050" marker-start="url(#mG)" marker-end="url(#mG)"/>
<path d="M812,445L1094,329.3" stroke="#1fa050" marker-start="url(#mG)" marker-end="url(#mG)"/>
<path d="M812,455L1094,421" stroke="#1fa050" marker-start="url(#mG)" marker-end="url(#mG)"/>
<path d="M812,463.3L1094,421" stroke="#1fa050" marker-start="url(#mG)" marker-end="url(#mG)"/>
</g>
</svg>
